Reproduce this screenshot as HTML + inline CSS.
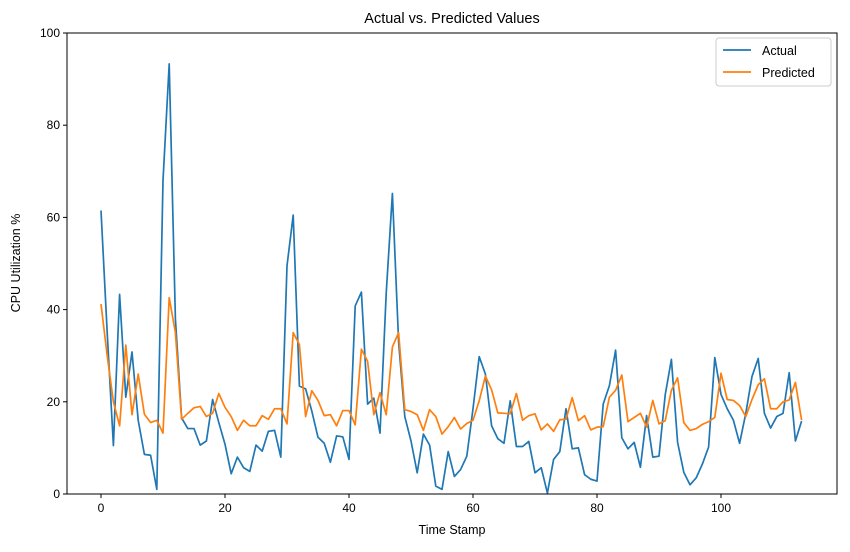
<!DOCTYPE html>
<html><head><meta charset="utf-8"><style>
body{margin:0;background:#fff;font-family:"Liberation Sans",sans-serif}
svg text{font-family:"Liberation Sans","DejaVu Sans",sans-serif;fill:#000}
</style></head><body>
<svg id="chart" width="850" height="547" xmlns="http://www.w3.org/2000/svg"></svg>
<script>
const actual=[61.5,35,10.5,43.3,21,30.8,16,8.6,8.4,1,68,93.3,38,16.5,14.2,14.2,10.6,11.5,20.5,15.5,10.8,4.4,8,5.7,4.9,10.6,9.3,13.6,13.8,8,49.5,60.5,23.4,22.8,18,12.3,11,6.9,12.6,12.4,7.5,40.8,43.8,19.5,20.8,13.2,43.5,65.2,33,16.8,11.5,4.6,13,10.6,1.7,1,9.2,3.8,5.3,8.2,18.5,29.8,26,14.8,12,11,20.2,10.3,10.3,11.4,4.6,5.7,0.2,7.5,9.2,18.5,9.8,10,4.2,3.2,2.8,19.5,23.5,31.2,12.2,9.8,11.2,5.8,17,8,8.2,21.5,29.2,11.2,4.7,2,3.5,6.5,10.2,29.6,21.6,18.5,16,11,17.5,25.5,29.4,17.5,14.3,16.8,17.5,26.3,11.5,15.8];
const predicted=[41.2,30,20,14.8,32.3,17.2,26,17.3,15.5,16,13.2,42.6,35,16.2,17.5,18.7,19,16.8,17.5,21.8,18.8,16.8,13.8,16,14.8,14.8,17,16.2,18.5,18.5,15.2,35,32.4,16.8,22.4,20.3,17,17.2,14.8,18.1,18.1,15,31.4,28.8,17.2,22,17.2,31.9,35,18.3,17.9,17.2,13.8,18.3,16.8,13,14.6,16.6,14.1,15.3,16,20.2,25.6,22.6,17.6,17.5,17.4,21.8,16,17,17.4,13.9,15.2,13.6,16.1,16.2,20.9,15.9,17,13.9,14.5,14.6,21,22.5,25.8,15.7,16.6,17.5,14.5,20.3,15.2,15.9,22.5,25.2,15.5,13.8,14.2,15.1,15.7,16.6,26.2,20.5,20.3,19.2,16.8,20.5,23.7,25,18.5,18.5,20,20.4,24.2,16];
const xTicks=[0,20,40,60,80,100];
const yTicks=[0,20,40,60,80,100];
const NS="http://www.w3.org/2000/svg";
const svg=document.getElementById('chart');
const L=67,R=837,T=33,B=494;
const xs=v=>101+v*6.2;
const ys=v=>B-(v/100)*(B-T);
function el(t,a){const e=document.createElementNS(NS,t);for(const k in a)e.setAttribute(k,a[k]);svg.appendChild(e);return e;}
function series(d,c,name){
 const p=el('polyline',{points:d.map((v,i)=>xs(i)+','+ys(v)).join(' '),fill:'none',stroke:c,'stroke-width':1.7,'stroke-linejoin':'round'});
 
 
}
series(actual,'#1f77b4','actual-line');
series(predicted,'#ff7f0e','predicted-line');
const fr=el('rect',{x:L,y:T,width:R-L,height:B-T,fill:'none',stroke:'#000','stroke-width':1});


xTicks.forEach(v=>{
 el('line',{x1:xs(v),x2:xs(v),y1:B,y2:B+4,stroke:'#000','stroke-width':1});
 const t=el('text',{x:xs(v),y:B+18,'text-anchor':'middle','font-size':12});t.textContent=v;
 
 
});
yTicks.forEach(v=>{
 el('line',{x1:L-4,x2:L,y1:ys(v),y2:ys(v),stroke:'#000','stroke-width':1});
 const t=el('text',{x:L-7,y:ys(v)+4,'text-anchor':'end','font-size':12});t.textContent=v;
 
 
});
</script>
<svg style="position:absolute;left:0;top:0" width="850" height="547">
<text x="452" y="23" text-anchor="middle" font-size="14.5">Actual vs. Predicted Values</text>
<text x="452" y="534" text-anchor="middle" font-size="12.5">Time Stamp</text>
<text transform="translate(20,263) rotate(-90)" text-anchor="middle" font-size="12.5">CPU Utilization %</text>
<g>
<rect x="716" y="38" width="115" height="48" rx="3" fill="#fff" stroke="#ccc"/>
<line x1="723" x2="751" y1="50" y2="50" stroke="#1f77b4" stroke-width="1.7"/>
<text x="762" y="55" font-size="12.5">Actual</text>
<line x1="723" x2="751" y1="72" y2="72" stroke="#ff7f0e" stroke-width="1.7"/>
<text x="762" y="77" font-size="12.5">Predicted</text>
</g>
</svg>
</body></html>
